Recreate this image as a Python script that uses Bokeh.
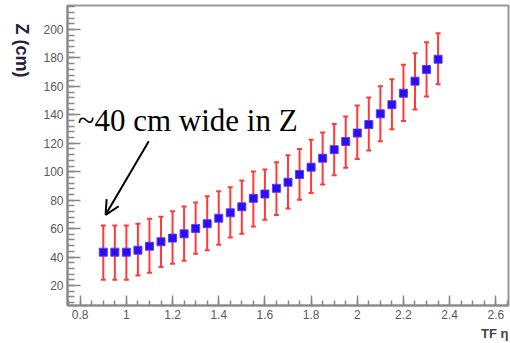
import math
from bokeh.plotting import figure
from bokeh.models import (ColumnDataSource, Whisker, TeeHead, Label, Arrow, OpenHead, Title,
                          SingleIntervalTicker, CustomJSTickFormatter, Range1d)
from bokeh.embed import file_html
from bokeh.resources import INLINE

# ---- data ----
eta = [0.90, 0.95, 1.00, 1.05, 1.10, 1.15, 1.20, 1.25, 1.30, 1.35,
       1.40, 1.45, 1.50, 1.55, 1.60, 1.65, 1.70, 1.75, 1.80, 1.85,
       1.90, 1.95, 2.00, 2.05, 2.10, 2.15, 2.20, 2.25, 2.30, 2.35]
z_mean = [43.4, 43.4, 43.4, 44.8, 47.6, 50.7, 53.3, 56.3, 60.1, 63.4,
          67.3, 71.1, 75.3, 81.3, 84.3, 88.3, 92.6, 98.1, 103.2, 109.5,
          115.5, 121.2, 127.2, 133.2, 140.7, 147.1, 155.2, 163.7, 171.9, 179.1]
z_high = [62.2, 62.2, 62.2, 63.4, 66.9, 68.3, 72.2, 75.6, 78.4, 82.8,
          86.3, 89.1, 93.8, 100.2, 101.6, 106.6, 111.6, 116.0, 122.5, 127.5,
          133.5, 138.8, 146.6, 152.2, 160.1, 165.1, 175.2, 183.4, 191.1, 197.4]
z_low = [24.0, 24.0, 24.0, 27.0, 28.9, 32.9, 35.3, 37.4, 42.3, 44.8,
         48.6, 53.8, 56.3, 61.5, 66.2, 69.5, 74.2, 80.2, 85.1, 91.0,
         97.5, 102.8, 108.9, 114.9, 121.4, 129.8, 135.6, 143.8, 152.9, 161.5]

x_title = "TF η"
y_title = "Z (cm)"
note = "~40 cm wide in Z"

src = ColumnDataSource(dict(eta=eta, z=z_mean, hi=z_high, lo=z_low))

x0, x1 = 0.745, 2.655
y0, y1 = 5.9, 216.9

p = figure(width=510, height=343, x_range=Range1d(x0, x1), y_range=Range1d(y0, y1),
           output_backend="svg", toolbar_location=None,
           min_border_left=67, min_border_right=2, min_border_top=5, min_border_bottom=38)
p.background_fill_color = "white"
p.border_fill_color = "white"
p.grid.visible = False
p.outline_line_color = "#999999"
p.outline_line_width = 2

p.xaxis.ticker = SingleIntervalTicker(interval=0.2, num_minor_ticks=4)
p.yaxis.ticker = SingleIntervalTicker(interval=20, num_minor_ticks=5)
p.xaxis.formatter = CustomJSTickFormatter(code="return (Math.round(tick*10)/10).toString();")

for ax in (p.xaxis[0], p.yaxis[0]):
    ax.axis_line_color = "#888888"
    ax.axis_line_width = 2
    ax.major_tick_line_color = "#888888"
    ax.minor_tick_line_color = "#888888"
    ax.major_tick_line_width = 1.5
    ax.minor_tick_line_width = 1.5
    ax.major_tick_out = 0
    ax.minor_tick_out = 0
    ax.major_label_text_color = "#5a5a5a"
    ax.major_label_text_font = "Liberation Sans"
    ax.major_label_text_font_size = "12px"

p.xaxis.major_tick_in = 10
p.xaxis.minor_tick_in = 5
p.yaxis.major_tick_in = 13
p.yaxis.minor_tick_in = 7
p.xaxis.major_label_standoff = 4
p.yaxis.major_label_standoff = 4

# y title, ROOT-style: near the top of the axis, reading downwards
p.add_layout(Label(x=1, y=282, x_units="screen", y_units="screen", text=y_title,
                   angle=-math.pi / 2, text_font="Liberation Sans", text_font_style="bold",
                   text_font_size="18px", text_color="#22223a",
                   text_align="left", text_baseline="alphabetic"), "left")

# x title at the right end, under the axis
p.add_layout(Title(text=x_title, align="right", text_font="Liberation Sans",
                   text_font_style="bold", text_font_size="13px", text_color="#444444",
                   standoff=4, offset=0), "below")

err_col = "#ff3a3a"
w = Whisker(source=src, base="eta", upper="hi", lower="lo", dimension="height",
            line_color=err_col, line_width=2,
            upper_head=TeeHead(size=5, line_color=err_col, line_width=2),
            lower_head=TeeHead(size=5, line_color=err_col, line_width=2))
p.add_layout(w)

p.scatter("eta", "z", source=src, marker="square", size=8,
          fill_color="#2a0df2", line_color="#5b3dff", line_width=1)

# annotation text and arrow
p.add_layout(Label(x=0.789, y=136.0, text=note, text_font="Liberation Serif",
                   text_font_size="31px", text_color="black",
                   text_align="left", text_baseline="alphabetic"))
p.add_layout(Arrow(end=OpenHead(size=14, line_width=2, line_color="black"),
                   x_start=1.097, y_start=121.5, x_end=0.91, y_end=69.7,
                   line_width=2, line_color="black"))

open("out.html", "w").write(file_html(p, INLINE))
